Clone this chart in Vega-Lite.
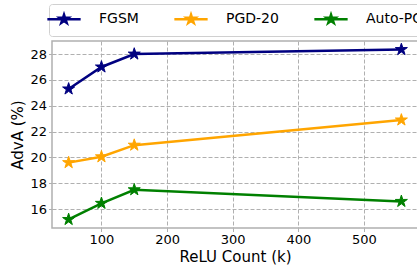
{
  "$schema": "https://vega.github.io/schema/vega-lite/v6.json",
  "width": 366,
  "height": 187,
  "autosize": {"type": "none"},
  "padding": {"left": 52, "top": 41, "right": 0, "bottom": 39},
  "background": "white",
  "config": {
    "font": "DejaVu Sans",
    "view": {"stroke": "#b0b0b0", "strokeWidth": 1.5}
  },
  "data": {
    "values": [
      {"relu": 50, "adva": 25.3, "attack": "FGSM"},
      {"relu": 100, "adva": 27.0, "attack": "FGSM"},
      {"relu": 150, "adva": 28.0, "attack": "FGSM"},
      {"relu": 557, "adva": 28.35, "attack": "FGSM"},
      {"relu": 50, "adva": 19.6, "attack": "PGD-20"},
      {"relu": 100, "adva": 20.05, "attack": "PGD-20"},
      {"relu": 150, "adva": 20.95, "attack": "PGD-20"},
      {"relu": 557, "adva": 22.9, "attack": "PGD-20"},
      {"relu": 50, "adva": 15.2, "attack": "Auto-PGD"},
      {"relu": 100, "adva": 16.45, "attack": "Auto-PGD"},
      {"relu": 150, "adva": 17.5, "attack": "Auto-PGD"},
      {"relu": 557, "adva": 16.6, "attack": "Auto-PGD"}
    ]
  },
  "encoding": {
    "x": {
      "field": "relu",
      "type": "quantitative",
      "title": "ReLU Count (k)",
      "scale": {"domain": [24.65, 582.35], "nice": false, "zero": false},
      "axis": {
        "values": [100, 200, 300, 400, 500],
        "domain": false,
        "grid": true,
        "gridDash": [4, 2],
        "gridColor": "#b0b0b0",
        "gridWidth": 1,
        "tickColor": "#b0b0b0",
        "tickSize": 3.5,
        "labelFontSize": 13,
        "labelColor": "#000000",
        "labelPadding": 2,
        "titleFontSize": 15,
        "titleFontWeight": "normal",
        "titleColor": "#000000",
        "titlePadding": 3
      }
    },
    "y": {
      "field": "adva",
      "type": "quantitative",
      "title": "AdvA (%)",
      "scale": {"domain": [14.54, 29.01], "nice": false, "zero": false},
      "axis": {
        "values": [16, 18, 20, 22, 24, 26, 28],
        "domain": false,
        "grid": true,
        "gridDash": [4, 2],
        "gridColor": "#b0b0b0",
        "gridWidth": 1,
        "tickColor": "#b0b0b0",
        "tickSize": 3.5,
        "labelFontSize": 13,
        "labelColor": "#000000",
        "labelPadding": 2,
        "titleFontSize": 15,
        "titleFontWeight": "normal",
        "titleColor": "#000000",
        "titlePadding": 4
      }
    },
    "color": {
      "field": "attack",
      "type": "nominal",
      "scale": {"domain": ["FGSM", "PGD-20", "Auto-PGD"], "range": ["#000080", "#ffa500", "#008000"]},
      "legend": {
        "title": null,
        "orient": "none",
        "direction": "horizontal",
        "legendX": -3,
        "legendY": -37,
        "symbolType": "M-3.7,0H3.7M0,-1L0.2245,-0.309L0.9511,-0.309L0.3633,0.118L0.5878,0.809L0,0.382L-0.5878,0.809L-0.3633,0.118L-0.9511,-0.309L-0.2245,-0.309Z",
        "symbolSize": 81,
        "symbolStrokeWidth": 2.5,
        "labelFontSize": 14,
        "labelColor": "#000000",
        "labelOffset": 28,
        "columnPadding": 30,
        "padding": 8,
        "strokeColor": "#d0d0d0",
        "fillColor": "white",
        "cornerRadius": 3,
        "encode": {
          "symbols": {
            "update": {
              "fill": {"scale": "color", "field": "value"},
              "stroke": {"scale": "color", "field": "value"},
              "opacity": {"value": 1}
            }
          }
        }
      }
    }
  },
  "layer": [
    {"mark": {"type": "line", "strokeWidth": 2.5}},
    {
      "mark": {
        "type": "point",
        "shape": "M0,-1L0.2245,-0.309L0.9511,-0.309L0.3633,0.118L0.5878,0.809L0,0.382L-0.5878,0.809L-0.3633,0.118L-0.9511,-0.309L-0.2245,-0.309Z",
        "filled": true,
        "size": 160,
        "strokeWidth": 1,
        "opacity": 1
      },
      "encoding": {"stroke": {"field": "attack", "type": "nominal", "scale": {"domain": ["FGSM", "PGD-20", "Auto-PGD"], "range": ["#000080", "#ffa500", "#008000"]}, "legend": null}}
    }
  ]
}
